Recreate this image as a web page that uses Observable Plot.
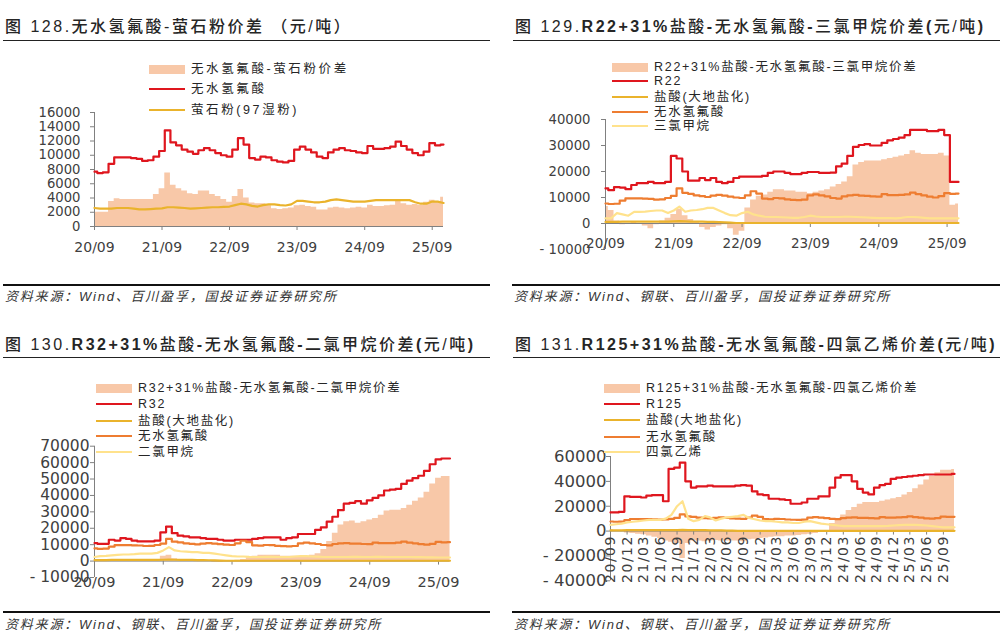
<!DOCTYPE html>
<html><head><meta charset="utf-8">
<script src="https://cdn.jsdelivr.net/npm/d3@7"></script>
<script src="https://cdn.jsdelivr.net/npm/@observablehq/plot@0.6"></script>
<style>
html,body{margin:0;padding:0;background:#fff}
#root{position:relative;width:1002px;height:640px;overflow:hidden;font-family:"Liberation Sans","Noto Sans CJK SC",sans-serif;color:#262626}
.abs{position:absolute}
.title{font-size:16px;line-height:20px;white-space:nowrap;letter-spacing:2.5px;font-weight:500}
.title b{font-weight:700}
.hr{height:1.5px;background:#222}
.hrb{height:2px;background:#111}
.src{font-size:13px;line-height:16px;font-style:italic;letter-spacing:1.8px;white-space:nowrap;color:#333}
.lg{font-size:12.5px;line-height:16px;letter-spacing:1.7px;white-space:nowrap;color:#262626}
</style></head><body><div id="root"></div>
<script>
// ---------- data (monthly, Sep 2020 .. Nov 2025) ----------
const startMonth = [2020, 8];
const endMonth = [2025, 10];

// 无水氢氟酸
const hf = [7700,7500,7600,8800,9700,9700,9700,9600,9500,9200,
  9300,9800,10600,13500,11800,11400,10800,10500,10200,10700,
  11000,10700,10300,10000,9800,10800,12400,11500,9600,9400,
  9800,9700,9300,9100,9000,9200,10800,11200,10800,10400,
  9800,9600,10400,10800,11000,10700,10600,10400,10300,11300,
  10900,10900,11000,11200,11900,11300,10800,10300,10000,10500,
  11700,11400,11500];
// 萤石粉(97湿粉)
const fluorite = [2600,2500,2500,2500,2600,2600,2600,2500,2400,2400,
  2450,2500,2550,2700,2700,2650,2600,2500,2550,2600,
  2650,2700,2700,2750,2800,3000,3200,3100,2900,2800,
  3000,3100,3100,3000,2950,3100,3600,3600,3500,3400,
  3400,3500,3700,3800,3700,3600,3500,3500,3500,3600,
  3700,3700,3700,3700,3700,3700,3700,3400,3200,3200,
  3500,3500,3300];
// 无水氢氟酸-萤石粉价差
const spreadHF = [2000,2000,2000,3500,3900,3800,3800,3800,3800,3800,
  3800,4500,5300,7500,5800,5300,5000,4600,4500,5000,
  5000,4500,4200,3800,3400,4200,5200,4000,3300,3200,
  3200,2900,2500,2400,2500,2600,2900,3000,2800,2700,
  2300,2300,2600,2700,2600,2500,2600,2700,2600,3000,
  2800,2800,2900,3000,3500,3200,3000,3100,3000,3400,
  3700,3500,4100];
// 盐酸(大地盐化)
const hcl = [600,600,600,700,700,700,700,700,700,700,
  700,700,800,900,800,700,700,700,600,600,
  500,400,300,200,200,200,200,200,200,200,
  200,200,200,200,200,200,200,200,200,200,
  200,200,200,200,200,200,200,200,200,200,
  200,200,200,200,200,200,200,200,200,200,
  200,200,200];
// R22
const r22 = [13500,12800,14000,13800,13200,14800,15500,15500,16000,15500,
  15500,16000,26000,25000,20000,16500,16500,17500,16700,17500,
  16000,15500,16000,17500,18000,18000,18000,18000,18300,19500,
  20000,20000,19500,19000,19000,19500,19800,19800,19500,19500,
  19600,22000,23000,26000,29500,30200,30500,30000,30000,31000,
  32000,32500,33000,34000,36000,36000,36000,35500,35500,36000,
  34000,16000,16000];
// 三氯甲烷
const chcl3 = [2000,2000,4000,3500,3000,4500,4500,4600,4800,5000,
  5000,4000,5000,6500,4500,5000,5200,5500,6000,6000,
  5000,4000,3200,3000,4000,4500,3500,3000,2600,2500,
  2500,2400,2300,2200,2200,2500,3000,2700,2500,2500,
  2500,2500,2600,2600,2500,2400,2300,2200,2100,2100,
  2100,2000,2200,2500,2500,2400,2200,2000,2000,2000,
  2000,2000,2000];
// R22+31%盐酸-无水氢氟酸-三氯甲烷价差
const spread22 = [6500,5000,1000,-500,0,500,0,-1000,-2000,-500,
  1000,2000,3500,5500,3000,1500,500,-1500,-2500,-1500,
  -1000,-500,-2000,-4500,-3000,6000,9000,10500,11000,12000,
  13000,13000,12500,12500,12000,12000,11500,12000,12500,13000,
  14000,15000,16000,18000,22500,23500,24000,24000,24000,24500,
  25000,25500,26000,26500,28000,27000,26500,26500,26500,27000,
  26000,7000,7500];
// R32
const r32 = [11000,10500,10500,13000,12500,14000,13500,12500,12000,12000,
  12000,12500,17500,21000,17000,15500,15000,14500,14500,14000,
  13500,13500,13000,12500,12500,13000,13000,13000,13500,14000,
  14500,14500,14500,13000,14000,14500,16500,16500,16500,19000,
  20500,24000,27000,31000,35000,35500,36500,35000,37000,38500,
  40000,43000,43500,44000,47000,49000,50500,52000,55000,59000,
  62000,62500,62500];
// 二氯甲烷
const ch2cl2 = [2500,3000,3200,3500,3800,4000,4000,4200,4500,4500,
  4500,5000,6500,8500,6500,6000,5800,5500,5500,5000,
  5000,4500,4000,3500,3000,2800,2800,2600,2500,2500,
  2600,2600,2500,2500,2500,2800,3000,3000,2800,2700,
  2500,2500,2500,2500,2500,2600,2600,2500,2500,2600,
  2600,2500,2500,2500,2500,2500,2400,2400,2300,2300,
  2200,2200,2200];
// R32+31%盐酸-无水氢氟酸-二氯甲烷价差
const spread32 = [500,300,200,500,300,500,200,0,-300,0,
  200,500,3000,3500,1500,500,300,0,-200,0,
  -300,-500,-500,-300,0,500,1000,2000,3000,3500,
  3500,3500,3500,3000,3000,3000,3000,3000,3500,4500,
  7000,12000,17000,22000,24000,24500,23000,24000,25000,26000,
  28000,30500,31000,31000,32000,34000,36500,38500,42000,47000,
  50500,51500,51500];
// R125
const r125 = [15000,15000,15500,28000,27500,27500,27000,28500,29000,29000,
  24000,50000,51000,55000,40000,35000,36000,36000,36500,36000,
  36000,36000,36000,36500,37000,36500,32000,29500,29000,26000,
  26000,25500,25000,22000,22000,23000,26000,26000,28000,28000,
  35000,43000,45000,45000,40000,34000,31000,29500,35000,37000,
  38000,42000,43000,43500,44000,44500,45000,45500,45500,45500,
  45500,45500,46000];
// 四氯乙烯
const tce = [5000,5500,6000,7000,7500,8000,8500,9000,9000,9000,
  10000,13000,20000,24000,10000,8000,9000,12000,11000,8500,
  10000,11000,11500,12000,13000,10500,9500,8500,8000,8000,
  7500,7000,7000,6500,6500,7500,8000,7000,6000,5500,
  5000,4500,4000,4000,4000,4000,4000,4000,4000,4000,
  4200,4500,4800,5000,5000,5000,4800,4500,4000,3500,
  3000,3000,3000];
// R125+31%盐酸-无水氢氟酸-四氯乙烯价差
const spread125 = [1000,500,0,-1500,-2000,-2500,-3000,-4000,-5000,-6000,
  -8000,-9000,-10000,-22000,-10000,-8000,-8000,-8500,-8000,-7500,
  -8000,-8000,-8000,-8000,-8500,-7000,-6500,-6000,-5500,-5000,
  -4500,-4500,-4000,-4000,-3500,-3000,-2500,-2000,-1000,500,
  6000,10000,13000,16500,19000,21500,23000,23000,23000,24000,
  25000,26000,27000,29000,31000,34000,37000,41000,44000,47000,
  49000,49000,49500];

// tick values
const yTicks1 = [0,2000,4000,6000,8000,10000,12000,14000,16000];
const yTicks2 = [-10000,0,10000,20000,30000,40000];
const yTicks3 = [-10000,0,10000,20000,30000,40000,50000,60000,70000];
const yTicks4 = [-40000,-20000,0,20000,40000,60000];

// ---------- helpers ----------
const months = d3.utcMonth.range(new Date(Date.UTC(startMonth[0], startMonth[1], 1)), new Date(Date.UTC(endMonth[0], endMonth[1], 2)));
const rows = vals => months.map((date, i) => ({date, value: vals[i]}));
const yearTicks = months.filter(d => d.getUTCMonth() === 8);
const quarterTicks = months.filter(d => (d.getUTCMonth() + 4) % 3 === 0);
const xfmt = d3.utcFormat("%y/%m");
const yfmt = d => d < 0 ? "- " + (-d) : String(d);

const C = {spread:"#F8C8A8", red:"#DF161E", gold:"#EAB32C", orange:"#EE7D31", pale:"#FFE28C"};
const AX = "#808080", LBL = "#404040";
const root = document.getElementById("root");

function el(cls, left, top, html, extra) {
  const d = document.createElement("div");
  d.className = "abs " + cls;
  d.style.left = left + "px"; d.style.top = top + "px";
  if (html != null) d.innerHTML = html;
  if (extra) Object.assign(d.style, extra);
  root.appendChild(d);
  return d;
}

function panel(p) {
  const marks = [
    Plot.areaY(rows(p.spread), {x: "date", y: "value", curve: "step", fill: C.spread}),
    Plot.ruleX([months[0]], {stroke: AX, strokeWidth: 1}),
    Plot.ruleY([0], {stroke: AX, strokeWidth: 1}),
    Plot.ruleX(p.xticks, {x: d => d, y1: () => 0, y2: () => 0, insetBottom: -4, stroke: AX}),
    Plot.axisY({ticks: p.yticks, tickSize: 4, tickPadding: p.ypad, tickFormat: yfmt, fontSize: p.yfont,
      fontFamily: "DejaVu Sans", stroke: AX, fill: LBL, label: null}),
    ...p.lines.map(s => Plot.line(rows(s.values), {x: "date", y: "value", curve: s.curve || "step",
      stroke: s.color, strokeWidth: 2.2})),
    Plot.text(p.xticks, Object.assign({x: d => d, y: () => 0, text: d => xfmt(d), fontSize: p.xfont,
      fontFamily: "DejaVu Sans", fill: LBL}, p.rotate ? {rotate: -90, textAnchor: "end", lineAnchor: "middle", dy: 4} : {dy: p.xdy}))
  ];
  const svg = Plot.plot({
    width: p.w, height: p.h,
    marginLeft: p.ml, marginRight: p.mr, marginTop: p.mt, marginBottom: p.mb,
    x: {type: "utc", domain: [months[0], months[months.length - 1]], axis: null},
    y: {domain: p.ydomain, axis: null},
    style: {background: "transparent", fontFamily: "DejaVu Sans", overflow: "visible"},
    marks
  });
  svg.style.position = "absolute";
  svg.style.left = p.left + "px";
  svg.style.top = p.top + "px";
  if (p.rotate) svg.querySelectorAll('g[aria-label="text"] text').forEach(t => t.setAttribute("letter-spacing", "1.5"));
  root.appendChild(svg);

  // legend
  p.legend.forEach((it, i) => {
    const y = p.lgY[i];
    if (it.area) el("", p.lgX, y - 4.5, null, {width: "36px", height: "9px", background: it.color});
    else el("", p.lgX, y - 1.2, null, {width: "36px", height: "2.4px", background: it.color});
    const t = el("lg", p.lgX + 42, y - 8, it.label);
    if (p.lgSpacing) t.style.letterSpacing = p.lgSpacing;
  });
}

// ---------- panels ----------
panel({left: 0, top: 100, w: 490, h: 170, ml: 94, mr: 47, mt: 12, mb: 44,
  ydomain: [0, 16000], yticks: yTicks1, ypad: 10, yfont: 13.2, xticks: yearTicks, xfont: 14, xdy: 21,
  spread: spreadHF,
  lines: [{values: hf, color: C.red}, {values: fluorite, color: C.gold, curve: "linear"}],
  lgX: 149, lgY: [69, 89, 110], lgSpacing: "2.6px",
  legend: [{area: true, color: C.spread, label: "无水氢氟酸-萤石粉价差"},
           {color: C.red, label: "无水氢氟酸"},
           {color: C.gold, label: "萤石粉(97湿粉)"}]});

panel({left: 500, top: 100, w: 502, h: 170, ml: 105, mr: 44, mt: 19, mb: 21,
  ydomain: [-10000, 40000], yticks: yTicks2, ypad: 11, yfont: 13.2, xticks: yearTicks, xfont: 13.5, xdy: 20,
  spread: spread22,
  lines: [{values: r22, color: C.red}, {values: hcl, color: C.gold, curve: "linear"},
          {values: hf, color: C.orange}, {values: chcl3, color: C.pale, curve: "linear"}],
  lgX: 612, lgY: [67, 81, 97, 112, 126],
  legend: [{area: true, color: C.spread, label: "R22+31%盐酸-无水氢氟酸-三氯甲烷价差"},
           {color: C.red, label: "R22"},
           {color: C.gold, label: "盐酸(大地盐化)"},
           {color: C.orange, label: "无水氢氟酸"},
           {color: C.pale, label: "三氯甲烷"}]});

panel({left: 0, top: 430, w: 490, h: 170, ml: 94, mr: 40.5, mt: 15.7, mb: 23,
  ydomain: [-10000, 70000], yticks: yTicks3, ypad: 1, yfont: 15.5, xticks: yearTicks, xfont: 14.5, xdy: 21,
  spread: spread32,
  lines: [{values: r32, color: C.red}, {values: hcl, color: C.gold, curve: "linear"},
          {values: hf, color: C.orange}, {values: ch2cl2, color: C.pale, curve: "linear"}],
  lgX: 96, lgY: [388, 404, 421, 436, 452],
  legend: [{area: true, color: C.spread, label: "R32+31%盐酸-无水氢氟酸-二氯甲烷价差"},
           {color: C.red, label: "R32"},
           {color: C.gold, label: "盐酸(大地盐化)"},
           {color: C.orange, label: "无水氢氟酸"},
           {color: C.pale, label: "二氯甲烷"}]});

panel({left: 500, top: 430, w: 502, h: 170, ml: 110, mr: 48, mt: 26, mb: 19.7,
  ydomain: [-40000, 60000], yticks: yTicks4, ypad: 0, yfont: 16.5, xticks: quarterTicks, xfont: 14, rotate: true,
  spread: spread125,
  lines: [{values: r125, color: C.red}, {values: hcl, color: C.gold, curve: "linear"},
          {values: hf, color: C.orange}, {values: tce, color: C.pale, curve: "linear"}],
  lgX: 604, lgY: [388, 404, 420, 437, 452],
  legend: [{area: true, color: C.spread, label: "R125+31%盐酸-无水氢氟酸-四氯乙烯价差"},
           {color: C.red, label: "R125"},
           {color: C.gold, label: "盐酸(大地盐化)"},
           {color: C.orange, label: "无水氢氟酸"},
           {color: C.pale, label: "四氯乙烯"}]});

// ---------- titles, rules, sources ----------
el("title", 5, 17, "图 128.无水氢氟酸-萤石粉价差 （元/吨）");
el("title", 515, 17, "图 129.<b>R22+31%</b>盐酸<b>-</b>无水氢氟酸<b>-</b>三氯甲烷价差<b>(</b>元/吨<b>)</b>");
el("title", 5, 335, "图 130.<b>R32+31%</b>盐酸<b>-</b>无水氢氟酸<b>-</b>二氯甲烷价差<b>(</b>元/吨<b>)</b>");
el("title", 515, 335, "图 131.<b>R125+31%</b>盐酸<b>-</b>无水氢氟酸<b>-</b>四氯乙烯价差<b>(</b>元/吨<b>)</b>");
el("hr", 3, 39.5, null, {width: "487px"});
el("hr", 513, 39.5, null, {width: "487px"});
el("hr", 3, 356.5, null, {width: "487px"});
el("hr", 513, 356.5, null, {width: "487px"});
el("hrb", 3, 284, null, {width: "487px"});
el("hrb", 512, 284, null, {width: "488px"});
el("hrb", 3, 611, null, {width: "487px"});
el("hrb", 512, 611, null, {width: "488px"});
el("src", 5, 289, "资料来源：Wind、百川盈孚，国投证券证券研究所");
el("src", 514, 289, "资料来源：Wind、钢联、百川盈孚，国投证券证券研究所");
el("src", 5, 617, "资料来源：Wind、钢联、百川盈孚，国投证券证券研究所");
el("src", 514, 617, "资料来源：Wind、钢联、百川盈孚，国投证券证券研究所");
</script></body></html>
